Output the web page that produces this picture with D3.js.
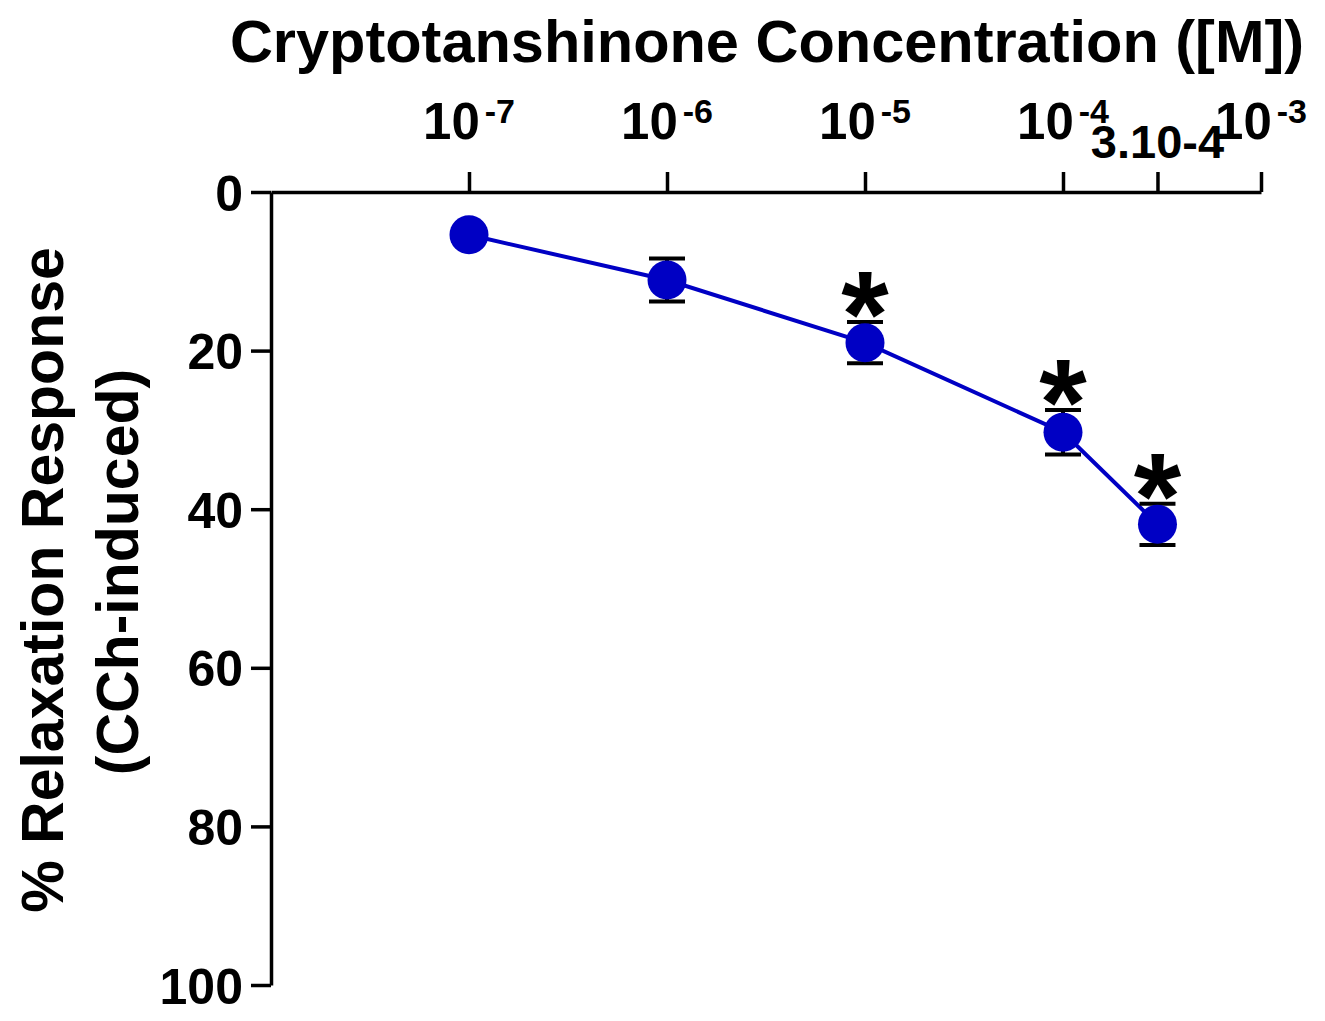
<!DOCTYPE html>
<html>
<head>
<meta charset="utf-8">
<script src="https://cdn.jsdelivr.net/npm/d3@7"></script>
<style>
  body { margin: 0; background: #fff; }
  text { font-family: "Liberation Sans", Arial, sans-serif; font-weight: bold; }
</style>
</head>
<body>
<div id="chart"></div>
<script>
// concentrations in M, relaxation in %, sem in %
const concentrations = [1e-7, 1e-6, 1e-5, 1e-4, 3e-4]
const relaxation = [5.4, 11.1, 19.0, 30.3, 41.9]
const sem = [0.3, 2.7, 2.6, 2.8, 2.6]
const significant = [false, false, true, true, true]

const decadeTicks = [1e-7, 1e-6, 1e-5, 1e-4, 1e-3]
const decadeExponents = ["-7", "-6", "-5", "-4", "-3"]
const extraTick = 3e-4
const extraTickLabel = "3.10-4"
const yTicks = [0, 20, 40, 60, 80, 100]

const width = 1325
const height = 1021

const xScale = d3.scaleLog()
	.domain([1e-8, 1e-3])
	.range([271, 1261])

const yScale = d3.scaleLinear()
	.domain([0, 100])
	.range([192, 985])

const svg = d3.select('#chart')
	.append('svg')
	.attr('width', width)
	.attr('height', height)

const data = concentrations.map((c, i) => ({
	conc: c, value: relaxation[i], sem: sem[i], sig: significant[i]
}))

// top x axis
const xAxis = d3.axisTop(xScale)
	.tickValues(decadeTicks.concat([extraTick]))
	.tickFormat('')
	.tickSize(20)
	.tickSizeOuter(0)

const gx = svg.append('g')
	.attr('class', 'x-axis')
	.attr('transform', `translate(0 ${yScale(0)})`)
	.call(xAxis)
gx.selectAll('path, line').attr('stroke', '#000').attr('stroke-width', 3.5)

// decade labels with superscript
decadeTicks.forEach((t, i) => {
	const label = svg.append('text')
		.attr('x', xScale(t))
		.attr('y', 139)
		.attr('text-anchor', 'middle')
		.attr('font-size', '51px')
	label.append('tspan').text('10')
	label.append('tspan')
		.attr('font-size', '34px')
		.attr('dx', 5)
		.attr('dy', -16)
		.text(decadeExponents[i])
})

svg.append('text')
	.attr('x', xScale(extraTick))
	.attr('y', 158)
	.attr('text-anchor', 'middle')
	.attr('font-size', '47px')
	.text(extraTickLabel)

// left y axis
const yAxis = d3.axisLeft(yScale)
	.tickValues(yTicks)
	.tickSize(20)
	.tickSizeOuter(0)
	.tickPadding(8)

const gy = svg.append('g')
	.attr('class', 'y-axis')
	.attr('transform', `translate(${xScale(1e-8)} 0)`)
	.call(yAxis)
gy.selectAll('path, line').attr('stroke', '#000').attr('stroke-width', 3.5)
gy.selectAll('text')
	.attr('font-size', '50px')
	.attr('font-family', '"Liberation Sans", Arial, sans-serif')
	.attr('font-weight', 'bold')
	.attr('fill', '#000')
	.attr('dy', '0.36em')

// title
svg.append('text')
	.attr('x', 767)
	.attr('y', 62)
	.attr('text-anchor', 'middle')
	.attr('font-size', '59.5px')
	.text('Cryptotanshinone Concentration ([M])')

// y label, two lines
const yLabel = svg.append('text')
	.attr('transform', 'translate(0 580) rotate(-90)')
	.attr('text-anchor', 'middle')
	.attr('font-size', '59px')
yLabel.append('tspan').attr('x', 0).attr('y', 63).text('% Relaxation Response')
yLabel.append('tspan').attr('x', 8).attr('y', 138).text('(CCh-induced)')

// connecting line
const line = d3.line()
	.x(d => xScale(d.conc))
	.y(d => yScale(d.value))

svg.append('path')
	.datum(data)
	.attr('d', line)
	.attr('fill', 'none')
	.attr('stroke', '#0000c4')
	.attr('stroke-width', 4)

// error bars
const capHalf = 18
const err = svg.append('g').attr('class', 'errors')
	.selectAll('g')
	.data(data)
	.join('g')
err.append('line')
	.attr('x1', d => xScale(d.conc)).attr('x2', d => xScale(d.conc))
	.attr('y1', d => yScale(d.value - d.sem)).attr('y2', d => yScale(d.value + d.sem))
err.selectAll('.cap')
	.data(d => [d.value - d.sem, d.value + d.sem].map(v => ({ conc: d.conc, v })))
	.join('line')
	.attr('class', 'cap')
	.attr('x1', d => xScale(d.conc) - capHalf).attr('x2', d => xScale(d.conc) + capHalf)
	.attr('y1', d => yScale(d.v)).attr('y2', d => yScale(d.v))
err.selectAll('line').attr('stroke', '#000').attr('stroke-width', 4)

// markers
svg.append('g').attr('class', 'circles')
	.selectAll('circle')
	.data(data)
	.join('circle')
	.attr('cx', d => xScale(d.conc))
	.attr('cy', d => yScale(d.value))
	.attr('r', 19.5)
	.attr('fill', '#0000c4')

// significance stars
svg.append('g').attr('class', 'stars')
	.selectAll('text')
	.data(data.filter(d => d.sig))
	.join('text')
	.attr('x', d => xScale(d.conc))
	.attr('y', d => yScale(d.value - d.sem) + 34)
	.attr('text-anchor', 'middle')
	.attr('font-size', '122px')
	.text('*')
</script>
</body>
</html>
